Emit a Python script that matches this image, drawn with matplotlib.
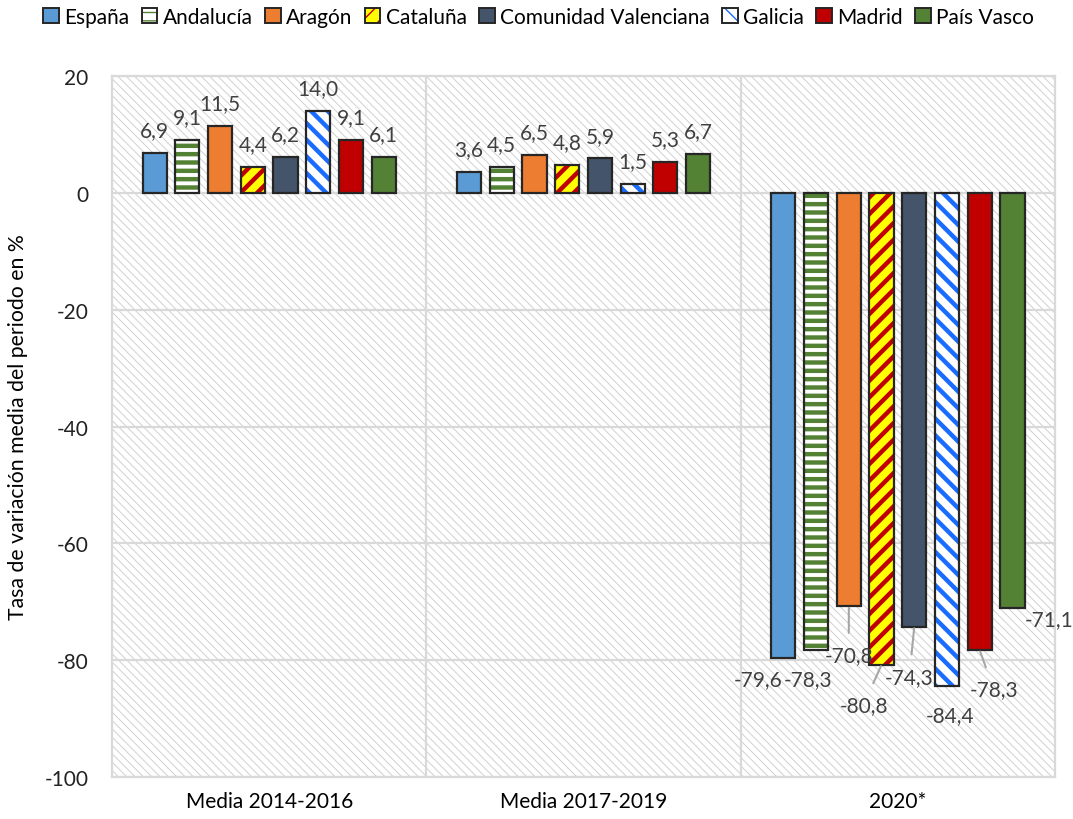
import matplotlib.pyplot as plt
from matplotlib.patches import Rectangle, Patch

plt.rcParams['font.family'] = ['Lato', 'DejaVu Sans']
plt.rcParams['axes.unicode_minus'] = False

categories = ['Media 2014-2016', 'Media 2017-2019', '2020*']
regions = ['España', 'Andalucía', 'Aragón', 'Cataluña', 'Comunidad Valenciana',
           'Galicia', 'Madrid', 'País Vasco']
espana = [6.9, 3.6, -79.6]
andalucia = [9.1, 4.5, -78.3]
aragon = [11.5, 6.5, -70.8]
cataluna = [4.4, 4.8, -80.8]
valenciana = [6.2, 5.9, -74.3]
galicia = [14.0, 1.5, -84.4]
madrid = [9.1, 5.3, -78.3]
pais_vasco = [6.1, 6.7, -71.1]
series = [espana, andalucia, aragon, cataluna, valenciana, galicia, madrid, pais_vasco]

# (face colour, hatch, hatch colour)
styles = [
    ('#5B9BD5', None, None),
    ('white', '--', '#548235'),
    ('#ED7D31', None, None),
    ('#FFFF00', '//', '#C00000'),
    ('#44546A', None, None),
    ('white', '\\\\', '#1A6CFF'),
    ('#C00000', None, None),
    ('#548235', None, None),
]

# label placement for the 2020 bars: (dx, dy) in pixels, leader line or not
neg_offsets = [(-25, 21, False), (-8, 29, False), (0, 49, True), (-18, 40, True),
               (-5, 50, True), (3, 29, False), (14, 39, True), (37, 11, False)]

edge = '#262626'
txt = '#404040'
grid = '#D9D9D9'
px = 72 / 100.0

fig = plt.figure(figsize=(10.73, 8.2), dpi=100)
ax = fig.add_axes([0.1044, 0.0512, 0.8789, 0.8549])

# hatched background of plot area
bg = Rectangle((0, 0), 1, 1, transform=ax.transAxes, facecolor='white',
               edgecolor='#D0D0D0', linewidth=0, hatch='\\\\\\\\', zorder=0)
if hasattr(bg, 'set_hatch_linewidth'):
    bg.set_hatch_linewidth(0.7)
ax.add_patch(bg)

width = 0.077
step = 0.1041
x = list(range(len(categories)))
handles = []
for i, (vals, (fc, hatch, hc)) in enumerate(zip(series, styles)):
    xs = [c + (i - 3.5) * step for c in x]
    if hatch:
        with plt.rc_context({'hatch.linewidth': 3.2}):
            b1 = ax.bar(xs, vals, width, color=fc, edgecolor=hc, hatch=hatch,
                        linewidth=0, zorder=3)
        for p in b1:
            if hasattr(p, 'set_hatch_linewidth'):
                p.set_hatch_linewidth(3.2)
        ax.bar(xs, vals, width, color='none', edgecolor=edge, linewidth=1.6, zorder=4)
        h1 = Patch(facecolor=fc, edgecolor=hc, hatch=hatch, linewidth=0)
        if hasattr(h1, 'set_hatch_linewidth'):
            h1.set_hatch_linewidth(2.0)
        h2 = Patch(facecolor='none', edgecolor=edge, linewidth=1.4)
        handles.append((h1, h2))
    else:
        ax.bar(xs, vals, width, color=fc, edgecolor=edge, linewidth=1.6, zorder=4)
        handles.append(Patch(facecolor=fc, edgecolor=edge, linewidth=1.4))

    for j, (xv, v) in enumerate(zip(xs, vals)):
        lab = f'{v:.1f}'.replace('.', ',')
        if v >= 0:
            ax.annotate(lab, (xv, v), xytext=(0, 12), textcoords='offset points',
                        ha='center', va='baseline', fontsize=15, color=txt, zorder=6)
        else:
            dx, dy, lead = neg_offsets[i]
            ap = None
            if lead:
                ap = dict(arrowstyle='-', color='#A6A6A6', lw=1.5,
                          shrinkA=7, shrinkB=1)
            ax.annotate(lab, (xv, v), xytext=(dx * px, -dy * px),
                        textcoords='offset points', ha='center', va='center',
                        fontsize=15, color=txt, zorder=6, arrowprops=ap,
                        annotation_clip=False)

ax.set_xlim(-0.5, 2.5)
ax.set_ylim(-100, 20)
ax.set_yticks(range(-100, 21, 20))
ax.set_xticks(x)
ax.set_xticklabels(categories, fontsize=15)
ax.tick_params(axis='y', labelsize=15, length=0, pad=17, labelcolor='#222222')
ax.tick_params(axis='x', length=0, pad=10)
ax.grid(axis='y', color=grid, linewidth=1.6, zorder=1)
for xv in [0.5, 1.5]:
    ax.axvline(xv, color=grid, linewidth=1.6, zorder=1)
for s in ax.spines.values():
    s.set_color(grid)
    s.set_linewidth(1.6)
ax.set_axisbelow(True)
ax.set_ylabel('Tasa de variación media del periodo en %', fontsize=15.3, labelpad=12)

fig.legend(handles, regions, loc='center', bbox_to_anchor=(0.502, 0.978), ncol=8,
           frameon=False, fontsize=15, handlelength=0.75, handleheight=0.75,
           handletextpad=0.25, columnspacing=0.6, borderaxespad=0)

fig.savefig('out.png', dpi=100)
